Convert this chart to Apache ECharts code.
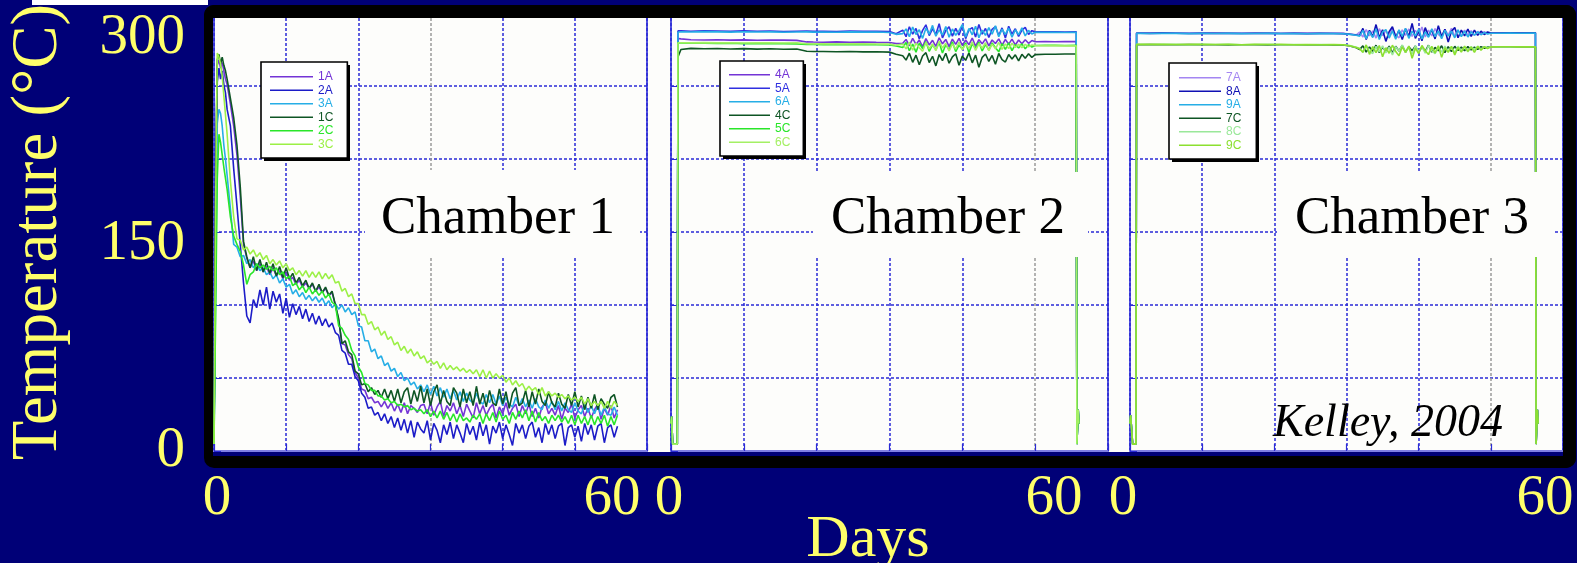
<!DOCTYPE html>
<html><head><meta charset="utf-8">
<script src="https://cdn.jsdelivr.net/npm/echarts@6/dist/echarts.min.js"></script>
<style>html,body{margin:0;padding:0;background:#000077;}#c{width:1577px;height:563px;}</style>
</head><body><div id="c"></div>
<script>
// ---------- DATA ----------
const yTickLabels = [0, 150, 300];
const xTickLabels = [0, 60];
const c1Names = ['1A','2A','3A','1C','2C','3C'];
const c2Names = ['4A','5A','6A','4C','5C','6C'];
const c3Names = ['7A','8A','9A','7C','8C','9C'];
const chamberTitles = ['Chamber 1','Chamber 2','Chamber 3'];

const c1Days = [0,0.25,0.5,0.75,1,1.25,1.5,1.75,
2,2.5,3,3.5,4,4.5,5,5.5,6,6.5,
7,7.5,8,8.5,9,9.5,10,10.5,11,11.5,
12,12.5,13,13.5,14,14.5,15,15.5,16,16.5,
17,17.5,18,18.5,19,19.5,20,20.5,21,21.5,
22,22.5,23,23.5,24,24.5,25,25.5,26,26.5,
27,27.5,28,28.5,29,29.5,30,30.5,31,31.5,
32,32.5,33,33.5,34,34.5,35,35.5,36,36.5,
37,37.5,38,38.5,39,39.5,40,40.5,41,41.5,
42,42.5,43,43.5,44,44.5,45,45.5,46,46.5,
47,47.5,48,48.5,49,49.5,50,50.5,51,51.5,
52,52.5,53,53.5,54,54.5,55,55.5,56,56.5,
57,57.5,58,58.5,59,59.5,60,60.5,61,61.5];

const t1A = [7,190,280,284,278,282,276,270,
266,252,236,215,185,150,140,133,138,131,
136,130,134,128,133,127,131,125,130,124,
126,121,124,119,122,118,121,116,119,115,
118,113,115,106,95,78,77,70,67,57,
53,45,44,38,39,35,36,32,36,31,
35,29,34,28,35,27,33,31,28,33,
34,27,35,26,32,36,25,33,29,35,
27,33,25,34,29,24,35,27,33,26,
31,34,24,32,27,35,26,31,34,25,
33,27,34,25,31,24,32,35,27,31,
26,33,23,31,28,34,24,30,33,25,
31,24,30,34,23,31,26,33,24,30];
const t2A = [6,150,268,278,270,276,266,260,
248,236,205,178,150,122,98,93,110,104,
117,106,119,103,116,108,114,100,111,97,
107,99,105,96,103,94,100,92,98,91,
96,90,93,86,84,73,71,63,63,54,
51,42,39,31,32,26,28,22,27,20,
25,17,24,15,23,13,22,10,21,16,
13,22,8,20,15,6,19,12,21,9,
19,13,6,20,12,18,8,21,11,19,
5,18,13,21,9,19,12,4,20,13,
19,9,18,21,10,17,6,20,12,19,
9,18,20,4,17,19,10,18,7,20,
12,19,8,18,20,6,17,19,10,18];
const t3A = [5,120,238,248,245,236,222,212,
200,176,150,148,141,142,136,139,133,136,
131,133,128,130,125,128,122,125,119,121,
114,117,112,115,110,113,109,112,108,111,
106,109,104,107,103,106,101,104,99,101,
91,90,80,80,72,74,67,69,62,64,
58,60,54,57,51,53,48,50,45,48,
43,48,41,47,40,46,39,45,38,44,
37,43,36,42,37,35,42,36,34,41,
35,41,34,40,33,39,34,32,39,33,
38,32,37,31,38,32,30,37,31,36,
30,36,29,35,30,28,35,29,27,34,
28,33,27,33,26,32,27,26,32,26];
const t1C = [8,200,284,288,281,286,280,276,
270,256,242,222,192,152,141,133,141,131,
139,130,137,129,136,127,134,126,133,125,
129,122,126,120,124,118,122,116,121,115,
119,113,116,106,96,78,80,72,70,58,
56,48,49,43,46,41,44,39,45,38,
44,36,45,35,43,46,34,44,36,47,
35,45,33,43,48,34,44,36,33,46,
42,32,45,35,43,33,47,34,42,32,
44,35,33,45,34,43,31,42,46,33,
35,44,32,43,34,45,36,33,43,35,
32,42,34,31,41,33,43,32,40,30,
39,31,41,30,38,34,31,39,41,32];
const t2C = [5,100,198,230,224,215,206,198,
190,170,156,150,145,135,121,128,130,136,
133,135,132,134,131,133,128,130,125,127,
120,122,117,120,115,119,114,117,113,116,
111,114,108,106,91,89,84,81,73,69,
61,57,49,48,44,44,40,40,37,38,
35,36,33,34,32,33,30,31,29,30,
27,30,25,29,24,29,23,28,22,27,
21,27,22,24,21,26,23,27,20,27,
22,28,21,29,23,26,20,28,23,29,
24,30,22,29,21,28,22,25,20,26,
22,26,21,25,20,26,19,26,20,25,
19,26,19,25,20,26,18,25,19,26];
const t3C = [5,180,289,286,281,272,258,244,
230,196,170,154,153,146,148,143,146,141,
144,139,142,136,139,135,138,133,136,131,
133,128,131,127,131,126,130,126,130,125,
129,125,128,122,123,116,118,112,114,107,
107,99,99,92,94,88,90,84,87,81,
83,77,79,73,76,71,74,69,72,67,
69,64,66,63,65,60,64,59,62,59,
61,58,60,57,59,56,59,54,59,53,
58,53,56,53,55,50,53,48,51,47,
49,44,47,44,46,41,46,40,43,40,
42,39,41,38,40,37,39,36,39,34,
38,33,36,33,36,31,36,31,36,33];

const c2Days = [0,0.1,0.25,0.95,1.05,1.5,3,5,7,9,11,13,15,17,19,20.5,21.5,23,25,27,29,31,33,34,
35,35.5,36,36.5,37,37.5,38,38.5,39,39.5,
40,40.5,41,41.5,42,42.5,43,43.5,44,44.5,
45,45.5,46,46.5,47,47.5,48,48.5,49,49.5,
50,50.5,51,51.5,52,52.5,53,53.5,54,54.5,55,
56.5,58,59.5,61.2,61.3,61.45,61.5,61.6];

const t4A = [20,25,5,5,299.5,
299.2,298.6,298.4,298.6,298.3,298.5,298.2,298.4,298.3,298.1,297.0,296.9,296.8,297.0,296.8,296.9,296.7,296.6,295.8,
296.0,298.8,294.2,299.6,295.2,298.4,293.4,299.4,294.8,298.2,
293.8,300.0,295.6,298.8,293.6,299.0,295.2,299.6,294.4,298.4,
295.0,299.8,293.8,298.6,295.6,299.2,294.2,298.4,295.8,299.2,
294.6,298.8,295.4,299.0,294.8,298.4,295.6,298.6,296.0,298.0,297.1,
297.2,297.1,297.3,297.2,5,5,30,20];
const t5A = [20,25,5,5,305,
305.0,304.8,305.1,304.9,304.7,305.0,304.8,304.9,304.6,304.8,304.9,304.7,304.8,304.6,304.9,304.7,304.8,304.5,303.0,
305.5,300.8,308.0,302.6,306.8,299.2,305.4,309.4,301.6,306.6,
302.4,310.2,300.0,305.2,308.0,301.2,306.8,302.0,308.8,299.4,
305.8,307.4,300.6,309.6,302.6,306.8,300.2,306.2,308.2,301.6,
307.2,299.8,308.4,302.6,306.6,301.0,305.6,307.6,302.4,305.2,304.3,
304.3,304.4,304.2,304.3,5,5,30,20];
const t6A = [20,25,5,5,304,
304.4,304.2,304.5,304.3,304.1,304.4,304.2,304.3,304.0,304.2,304.3,304.1,304.2,304.0,304.3,304.1,304.2,303.8,302.5,
303.0,306.5,300.8,307.8,302.4,305.9,299.6,307.0,302.6,309.0,
301.2,305.8,302.0,308.2,300.4,306.4,301.8,305.2,309.6,300.6,
306.8,302.2,308.4,300.0,305.6,301.8,307.4,302.6,308.8,300.8,
306.2,302.4,307.0,300.4,305.8,302.2,307.2,301.4,305.4,302.8,304.0,
303.9,304.0,303.8,303.9,5,5,30,20];
const t4C = [20,25,5,5,286,
291.5,292.3,292.0,292.2,291.9,292.1,291.8,292.0,291.7,291.9,290.2,290.0,290.1,289.9,290.0,289.8,289.9,289.6,288.0,
287.0,283.8,288.8,282.2,287.4,280.4,286.8,289.2,282.0,286.6,
279.6,287.8,283.4,288.8,281.6,286.2,288.4,280.0,286.8,283.6,
289.0,281.8,287.4,278.6,285.8,288.2,282.8,287.2,280.8,288.6,
284.2,282.4,287.8,284.6,287.6,283.2,288.0,285.2,288.4,285.8,287.8,
288.0,288.1,288.2,288.2,5,5,30,20];
const t5C = [20,25,5,5,296.5,
296.2,296.0,296.1,295.9,296.0,295.8,295.9,295.7,295.8,295.6,295.2,295.1,295.0,295.2,295.0,295.1,294.9,294.8,294.0,
293.0,296.6,290.6,295.4,289.6,296.0,292.2,297.2,290.2,295.0,
291.4,296.6,289.0,295.0,291.2,297.0,290.0,294.6,291.8,296.4,
289.4,295.6,292.4,296.8,290.4,295.2,291.0,296.2,292.8,289.8,
295.8,291.6,296.4,290.6,295.0,292.6,295.6,292.0,295.0,293.2,294.4,
294.5,294.6,294.4,294.5,5,5,30,20];
const t6C = [20,25,5,5,296.4,
296.4,296.3,296.5,296.3,296.4,296.2,296.4,296.3,296.2,296.3,295.7,295.6,295.7,295.5,295.6,295.7,295.5,295.4,294.6,
295.4,292.0,296.8,291.0,296.0,292.8,290.2,296.6,292.0,295.6,
290.6,297.4,292.6,296.0,290.4,295.6,291.8,296.8,291.2,295.2,
292.4,297.0,290.8,295.8,292.4,296.4,290.6,295.4,292.0,296.6,
291.6,295.6,292.2,296.0,293.0,295.2,292.8,295.2,293.4,294.8,294.3,
294.2,294.3,294.1,294.2,5,5,30,20];

const c3Days = [0,0.1,0.4,0.9,1.0,1.5,3,5,7,9,11,13,15,17,19,21,23,25,27,29,31,32.5,33.5,34.5,
35,35.5,36,36.5,37,37.5,38,38.5,39,39.5,
40,40.5,41,41.5,42,42.5,43,43.5,44,44.5,
45,45.5,46,46.5,47,47.5,48,48.5,49,49.5,
50,50.5,51,51.5,52,52.5,53,53.5,54,54.5,55,
56.5,58,59.5,61.8,61.9,62.05,62.1,62.2];

const t7A = [20,26,5,5,303.6,
303.6,303.4,303.6,303.5,303.4,303.6,303.5,303.3,303.5,303.4,303.5,303.3,303.4,303.5,303.3,303.4,303.2,302.8,302.2,
304.2,300.6,306.0,301.4,305.0,299.8,306.6,301.6,305.2,300.8,
307.0,302.0,300.0,305.8,301.8,306.4,301.0,305.4,302.0,307.8,
300.6,305.6,301.4,306.6,302.4,300.6,306.0,302.0,306.8,301.2,
305.2,301.8,305.6,302.0,305.2,301.8,304.6,302.6,304.4,303.0,303.6,
303.6,303.7,303.6,303.7,5,5,30,20];
const t8A = [20,26,5,5,303.3,
303.3,303.2,303.4,303.3,303.1,303.3,303.2,303.3,303.1,303.2,303.3,303.1,303.2,303.0,303.2,303.1,303.0,302.6,302.0,
301.8,306.8,298.8,305.4,300.8,309.6,300.0,305.8,297.4,304.4,
308.0,300.4,305.4,298.8,306.6,301.0,310.4,299.6,305.0,297.8,
307.4,301.2,305.8,299.2,308.8,300.8,306.2,297.0,304.8,307.4,
300.0,305.6,301.4,306.4,301.0,305.6,301.8,304.8,302.4,304.2,303.4,
303.5,303.6,303.5,303.6,5,5,30,20];
const t9A = [20,26,5,5,303.2,
303.2,303.1,303.3,303.2,303.0,303.2,303.1,303.2,303.0,303.1,303.2,303.0,303.1,302.9,303.1,303.0,302.9,302.5,301.8,
301.2,305.4,299.4,304.6,300.2,306.4,298.8,304.2,306.0,299.8,
305.0,299.0,305.8,301.0,306.8,299.6,304.8,301.2,306.2,299.2,
304.4,300.4,306.6,300.8,305.0,299.4,305.4,301.2,304.8,300.0,
305.8,300.8,304.8,300.6,304.4,301.8,304.4,302.2,303.8,302.8,303.3,
303.3,303.4,303.3,303.4,5,5,30,20];
const t7C = [20,26,5,5,295.0,
295.0,295.1,294.9,295.0,295.1,294.9,295.0,294.8,295.0,294.9,294.8,295.0,294.9,294.8,294.9,294.7,294.8,294.0,292.8,
291.4,294.2,289.6,293.4,290.2,294.6,289.2,293.2,290.0,294.0,
289.0,293.8,290.4,294.4,289.6,293.4,290.6,294.0,289.4,293.4,
290.2,294.6,289.6,293.0,290.6,294.2,289.2,293.6,290.0,293.8,
290.8,293.2,290.6,293.6,291.2,293.2,291.6,293.6,292.4,293.2,293.2,
293.3,293.4,293.3,293.4,5,5,30,20];
const t8C = [20,26,5,5,295.2,
295.2,295.1,295.3,295.2,295.0,295.2,295.1,295.2,295.0,295.1,295.2,295.0,295.1,294.9,295.1,295.0,294.9,294.3,293.2,
292.4,289.4,294.4,290.2,288.6,293.8,289.8,294.2,289.0,293.2,
287.6,293.6,290.4,294.8,289.2,293.0,288.2,294.2,290.0,293.6,
288.8,294.4,290.6,288.4,293.4,289.6,294.0,290.2,293.4,289.2,
293.8,290.6,293.2,289.8,293.6,291.2,293.8,291.8,293.4,292.8,293.4,
293.5,293.4,293.5,293.5,5,5,30,20];
const t9C = [20,26,5,5,295.2,
295.2,295.3,295.2,295.1,295.2,295.3,295.1,295.2,295.0,295.2,295.1,295.2,295.0,295.1,295.0,295.1,294.9,294.2,293.0,
292.0,289.6,294.8,288.0,293.6,289.2,294.4,286.2,292.8,288.8,
294.6,290.0,287.0,293.4,289.4,294.0,285.2,292.4,288.6,294.4,
290.6,287.8,293.8,289.0,294.2,285.8,292.8,289.4,293.8,287.6,
293.0,289.6,294.0,290.2,293.4,289.4,293.8,291.0,293.6,292.2,293.4,
293.5,293.5,293.4,293.5,5,5,30,20];

// ---------- STYLE ----------
const c1Colors = ['#7434d6','#1c1cc8','#26aee6','#0e5524','#2ae62a','#9cf046'];
const c2Colors = ['#7434d6','#2f2fe0','#26aee6','#0e5524','#2ae62a','#a4f064'];
const c3Colors = ['#a486f2','#1010b4','#26aee6','#0e5524','#9ae89a','#8ce030'];
const YEL = '#ffff6a';
const SERIF = '"Liberation Serif", "Times New Roman", serif';
const SANS = '"Liberation Sans", Arial, sans-serif';
const gridBlue = '#2a2ad6';

const chambers = [
  {days: c1Days, names: c1Names, vals: [t1A,t2A,t3A,t1C,t2C,t3C], colors: c1Colors},
  {days: c2Days, names: c2Names, vals: [t4A,t5A,t6A,t4C,t5C,t6C], colors: c2Colors},
  {days: c3Days, names: c3Names, vals: [t7A,t8A,t9A,t7C,t8C,t9C], colors: c3Colors}
];

const dataGrids = [
  {left: 214, width: 433}, {left: 671, width: 437}, {left: 1130, width: 433}
];
const labelGrids = [
  {left: 217, width: 395}, {left: 669, width: 385}, {left: 1123, width: 422}
];
const grayIdx = [3, 5, 5];

const grid = [];
const xAxis = [];
const yAxis = [];
dataGrids.forEach((g) => {
  grid.push({left: g.left, width: g.width, top: 13, height: 438, show: true,
    backgroundColor: 'transparent', borderColor: '#1a1ad2', borderWidth: 1.5,
    containLabel: false, outerBoundsMode: 'none'});
});
labelGrids.forEach((g) => {
  grid.push({left: g.left, width: g.width, top: 13, height: 438, show: false,
    containLabel: false, outerBoundsMode: 'none'});
});
dataGrids.forEach((g, i) => {
  const cols = [];
  for (let k = 0; k < 7; k++) cols.push(k === grayIdx[i] ? '#9a9a9a' : gridBlue);
  xAxis.push({type: 'value', gridIndex: i, min: 0, max: 66, interval: 11,
    axisLine: {show: true, onZero: false, lineStyle: {color: '#8080e4', width: 2}},
    axisTick: {show: true, inside: true, length: 7, lineStyle: {color: gridBlue, width: 1.2}},
    axisLabel: {show: false},
    splitLine: {show: true, lineStyle: {color: cols, width: 1.5, type: [3, 2]}}});
  yAxis.push({type: 'value', gridIndex: i, min: 0, max: 318, interval: 53, position: 'left',
    axisLine: {show: false}, axisTick: {show: true, inside: true, length: 7, lineStyle: {color: gridBlue}},
    axisLabel: {show: false},
    splitLine: {show: true, lineStyle: {color: gridBlue, width: 1.5, type: [3, 2]}}});
});
// y tick labels on chamber 1
yAxis.push({type: 'value', gridIndex: 0, min: 0, max: 318, interval: 150, position: 'left',
  axisLine: {show: false}, axisTick: {show: false}, splitLine: {show: false},
  axisLabel: {show: true, showMaxLabel: false, color: YEL, fontFamily: SERIF, fontSize: 57, margin: 29,
    padding: [6, 0, 0, 0],
    formatter: (v) => yTickLabels.indexOf(v) >= 0 ? String(v) : ''}});
labelGrids.forEach((g, i) => {
  xAxis.push({type: 'value', gridIndex: 3 + i, min: xTickLabels[0], max: xTickLabels[1], interval: 60,
    axisLine: {show: false}, axisTick: {show: false}, splitLine: {show: false},
    axisLabel: {show: true, color: YEL, fontFamily: SERIF, fontSize: 57, margin: 20}});
  yAxis.push({type: 'value', gridIndex: 3 + i, min: 0, max: 318, show: false});
});

const series = [];
const legends = [];
const legendPos = [
  {left: 261, top: 62, itemWidth: 43, padding: [8, 14, 7, 9], w: 86, h: 96},
  {left: 720, top: 61, itemWidth: 41, padding: [7, 13, 7, 9], w: 83, h: 95},
  {left: 1169, top: 63, itemWidth: 42, padding: [8, 15, 7, 10], w: 87, h: 96}
];
const elements = [];
chambers.forEach((ch, i) => {
  ch.names.forEach((n, j) => {
    series.push({type: 'line', name: n, xAxisIndex: i, yAxisIndex: i,
      data: ch.days.map((d, k) => [d, ch.vals[j][k]]),
      symbol: 'none', showSymbol: false, color: ch.colors[j],
      lineStyle: {color: ch.colors[j], width: 1.6}, itemStyle: {color: ch.colors[j]},
      animation: false, silent: true});
  });
  const lp = legendPos[i];
  legends.push({orient: 'vertical', left: lp.left, top: lp.top, icon: 'rect', z: 20,
    itemWidth: lp.itemWidth, itemHeight: 1.6, itemGap: 0, padding: lp.padding,
    backgroundColor: '#ffffff', borderColor: '#000', borderWidth: 1.6, borderRadius: 0,
    selectedMode: false,
    textStyle: {fontFamily: SANS, fontSize: 12, lineHeight: 13.5},
    data: ch.names.map((n, j) => ({name: n, textStyle: {color: ch.colors[j]}}))});
  elements.push({type: 'rect', z: 15, shape: {x: lp.left + 3, y: lp.top + 3, width: lp.w, height: lp.h},
    style: {fill: '#000'}});
});

const boxes = [
  {x: 365, y: 170, w: 275, h: 87, cx: 498},
  {x: 813, y: 172, w: 275, h: 85, cx: 948},
  {x: 1277, y: 172, w: 276, h: 85, cx: 1412}
];
elements.push(
  {type: 'rect', z: -100, shape: {x: 204, y: 5, width: 1372, height: 463, r: 10}, style: {fill: '#000'}},
  {type: 'rect', z: -99, shape: {x: 213, y: 18, width: 1350, height: 434}, style: {fill: '#fdfdfb'}},
  {type: 'rect', z: -98, shape: {x: 213, y: 452, width: 1350, height: 4}, style: {fill: '#000077'}},
  {type: 'rect', z: 50, shape: {x: 204, y: 5, width: 1372, height: 13, r: [10, 10, 0, 0]}, style: {fill: '#000'}},
  {type: 'rect', z: 50, shape: {x: 1563, y: 5, width: 13, height: 463, r: [0, 10, 10, 0]}, style: {fill: '#000'}},
  {type: 'rect', z: 50, shape: {x: 32, y: 0, width: 176, height: 5}, style: {fill: '#ffffff'}},
  {type: 'text', z: 60, x: 39, y: 232, rotation: Math.PI / 2,
    style: {text: 'Temperature (°C)', font: '65px ' + SERIF, fill: YEL, textAlign: 'center', textVerticalAlign: 'middle'}},
  {type: 'text', z: 60, x: 868, y: 540,
    style: {text: 'Days', font: '60px ' + SERIF, fill: YEL, textAlign: 'center', textVerticalAlign: 'middle'}},
  {type: 'text', z: 60, x: 1388, y: 424,
    style: {text: 'Kelley, 2004', font: 'italic 46px ' + SERIF, fill: '#000', textAlign: 'center', textVerticalAlign: 'middle'}}
);
boxes.forEach((b, i) => {
  elements.push({type: 'rect', z: 55, shape: {x: b.x, y: b.y, width: b.w, height: b.h}, style: {fill: '#fdfdfb'}});
  elements.push({type: 'text', z: 60, x: b.cx, y: 219,
    style: {text: chamberTitles[i], font: '53px ' + SERIF, fill: '#000', textAlign: 'center', textVerticalAlign: 'middle'}});
});

const chart = echarts.init(document.getElementById('c'), null, {renderer: 'canvas'});
chart.setOption({
  backgroundColor: '#000077',
  animation: false,
  grid, xAxis, yAxis, series,
  legend: legends,
  graphic: {elements}
});
</script></body></html>
